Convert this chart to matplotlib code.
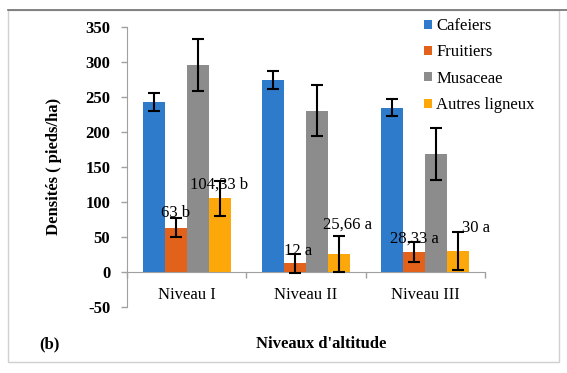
import matplotlib
matplotlib.use("Agg")
import matplotlib.pyplot as plt
import numpy as np
from matplotlib.patches import Rectangle

# ---- data ----
categories = ["Niveau I", "Niveau II", "Niveau III"]
series = ["Cafeiers", "Fruitiers", "Musaceae", "Autres ligneux"]
cafeiers = [242, 274, 234]
cafeiers_err = [13, 13, 12]
fruitiers = [63, 12, 28.33]
fruitiers_err = [14, 14, 14]
musaceae = [295, 230, 168]
musaceae_err = [37, 36, 37]
autres = [104.83, 25.66, 30]
autres_err = [25, 26, 27]
fruitiers_labels = ["63 b", "12 a", "28,33 a"]
autres_labels = ["104,33 b", "25,66 a", "30 a"]
yticks = [-50, 0, 50, 100, 150, 200, 250, 300, 350]

colors = ["#2E7BCB", "#E2611B", "#8C8C8C", "#FDA80A"]

plt.rcParams["font.family"] = "serif"
plt.rcParams["font.serif"] = ["Liberation Serif", "DejaVu Serif"]

fig = plt.figure(figsize=(5.67, 3.73), dpi=100)
ax = fig.add_axes([127/567, 1-306.7/373, (485-127)/567, (306.7-26.7)/373])

x = np.arange(len(categories))
w = 0.184
vals = [cafeiers, fruitiers, musaceae, autres]
errs = [cafeiers_err, fruitiers_err, musaceae_err, autres_err]
offsets = [-1.5*w, -0.5*w, 0.5*w, 1.5*w]
for v, e, off, c, name in zip(vals, errs, offsets, colors, series):
    ax.bar(x + off, v, w, color=c, label=name, zorder=2,
           yerr=e, error_kw=dict(ecolor="black", elinewidth=1.5, capsize=4, capthick=1.5, zorder=3))

# data labels (layout offsets in data units)
fr_dx = [0.0, 0.025, 0.0]
fr_y = [84, 30, 47]
au_dx = [-0.005, 0.068, 0.149]
au_y = [125, 67, 63]
for i in range(3):
    ax.text(x[i] + offsets[1] + fr_dx[i], fr_y[i], fruitiers_labels[i], ha="center", va="center",
            fontsize=12, zorder=4)
    ax.text(x[i] + offsets[3] + au_dx[i], au_y[i], autres_labels[i], ha="center", va="center",
            fontsize=12, zorder=4)

ax.set_xlim(-0.5, 2.5)
ax.set_ylim(-50, 350)
ax.set_yticks(yticks)
ax.set_yticklabels([str(t) for t in yticks], fontweight="bold")
ax.tick_params(axis="y", length=4, width=1, color="#A0A0A0", pad=8, labelsize=12)

ax.set_xticks([-0.5, 0.5, 1.5, 2.5])
ax.set_xticklabels([])
ax.set_xticks(x, minor=True)
ax.set_xticklabels(categories, minor=True)
ax.tick_params(axis="x", which="major", length=4, width=1, color="#A0A0A0", direction="out")
ax.tick_params(axis="x", which="minor", length=0, pad=11, labelsize=12)

for s in ["top", "right"]:
    ax.spines[s].set_visible(False)
ax.spines["bottom"].set_position(("data", 0))
ax.spines["bottom"].set_color("#A0A0A0")
ax.spines["left"].set_color("#A0A0A0")
ax.spines["bottom"].set_zorder(1)

ax.set_ylabel("Densités ( pieds/ha)", fontsize=12, fontweight="bold")
ax.yaxis.set_label_coords((62-127)/(485-127), 0.5)

fig.text(321/567, 1-344/373, "Niveaux d'altitude", ha="center", va="center", fontsize=12, fontweight="bold")
fig.text(49/567, 1-344/373, "(b)", ha="center", va="center", fontsize=12, fontweight="bold")

leg = fig.legend(loc="upper left", bbox_to_anchor=(424/567, 1-18/373), frameon=False, fontsize=12,
                 handlelength=0.45, handleheight=0.45, handletextpad=0.3, labelspacing=0.62,
                 borderaxespad=0, borderpad=0)

# outer frame
fig.add_artist(Rectangle((8/567, 1-362/373), (559-8)/567, (362-10)/373, transform=fig.transFigure,
                         fill=False, edgecolor="#D0D0D0", linewidth=1))
fig.add_artist(plt.Line2D([8/567, 1], [1-10/373, 1-10/373], transform=fig.transFigure,
                          color="#707070", linewidth=1.2))

fig.savefig("out.png", dpi=100)
